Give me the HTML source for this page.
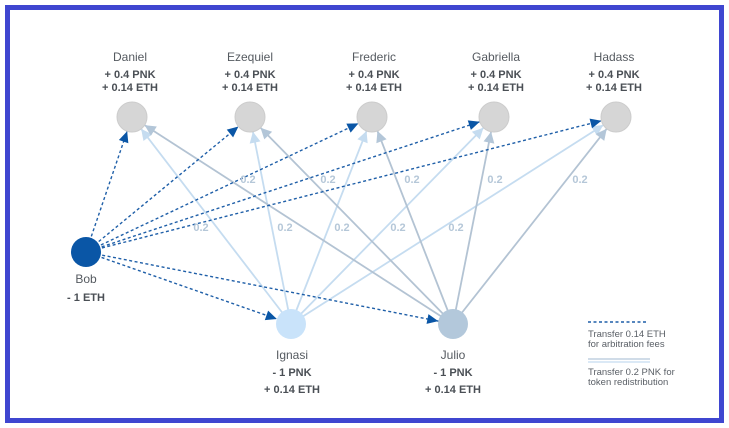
<!DOCTYPE html>
<html><head><meta charset="utf-8"><style>
html,body{margin:0;padding:0;background:#fff}
svg{display:block;font-family:"Liberation Sans",sans-serif}
</style></head><body>
<svg width="729" height="428" viewBox="0 0 729 428">
<defs>
<marker id="da" markerUnits="userSpaceOnUse" markerWidth="30" markerHeight="20" viewBox="-12 -6 30 12" refX="15" refY="0" orient="auto">
<path d="M0,0 L-11,-5 L-11,5 Z" fill="#0a56a6"/></marker>
<marker id="la" markerUnits="userSpaceOnUse" markerWidth="30" markerHeight="20" viewBox="-12 -6 30 12" refX="15" refY="0" orient="auto">
<path d="M0,0 L-11,-5.5 L-11,5.5 Z" fill="#c5dcf0"/></marker>
<marker id="ga" markerUnits="userSpaceOnUse" markerWidth="30" markerHeight="20" viewBox="-12 -6 30 12" refX="15" refY="0" orient="auto">
<path d="M0,0 L-11,-5.5 L-11,5.5 Z" fill="#b3c6d8"/></marker>
</defs>
<rect x="7.5" y="7.5" width="714" height="413" fill="#fff" stroke="#3f46d0" stroke-width="5"/>
<g stroke="#c5dcf0" stroke-width="1.8" fill="none" marker-end="url(#la)">
<line x1="291" y1="324" x2="132" y2="117"/>
<line x1="291" y1="324" x2="250" y2="117"/>
<line x1="291" y1="324" x2="372" y2="117"/>
<line x1="291" y1="324" x2="494" y2="117"/>
<line x1="291" y1="324" x2="616" y2="117"/>
</g>
<g stroke="#b3c3d3" stroke-width="1.8" fill="none" marker-end="url(#ga)">
<line x1="453" y1="324" x2="132" y2="117"/>
<line x1="453" y1="324" x2="250" y2="117"/>
<line x1="453" y1="324" x2="372" y2="117"/>
<line x1="453" y1="324" x2="494" y2="117"/>
<line x1="453" y1="324" x2="616" y2="117"/>
</g>
<g stroke="#1f5fa8" stroke-width="1.4" stroke-dasharray="3,2.5" fill="none" marker-end="url(#da)">
<line x1="86" y1="252" x2="132" y2="117"/>
<line x1="86" y1="252" x2="250" y2="117"/>
<line x1="86" y1="252" x2="372" y2="117"/>
<line x1="86" y1="252" x2="494" y2="117"/>
<line x1="86" y1="252" x2="616" y2="117"/>
<line x1="86" y1="252" x2="291" y2="324"/>
<line x1="86" y1="252" x2="453" y2="324"/>
</g>
<g fill="#d6d6d6" stroke="#cccccc" stroke-width="1">
<circle cx="132" cy="117" r="15"/><circle cx="250" cy="117" r="15"/>
<circle cx="372" cy="117" r="15"/><circle cx="494" cy="117" r="15"/>
<circle cx="616" cy="117" r="15"/>
</g>
<circle cx="86" cy="252" r="15" fill="#0a56a6"/>
<circle cx="291" cy="324" r="15" fill="#c9e3fa"/>
<circle cx="453" cy="324" r="15" fill="#b3c8db"/>
<g fill="#b5c7d8" font-size="11" font-weight="bold" text-anchor="middle">
<text x="248" y="183">0.2</text><text x="328" y="183">0.2</text><text x="412" y="183">0.2</text><text x="495" y="183">0.2</text><text x="580" y="183">0.2</text>
<text x="201" y="231">0.2</text><text x="285" y="231">0.2</text><text x="342" y="231">0.2</text><text x="398" y="231">0.2</text><text x="456" y="231">0.2</text>
</g>
<g fill="#555a60" font-size="12" text-anchor="middle">
<text x="130" y="61">Daniel</text><text x="250" y="61">Ezequiel</text><text x="374" y="61">Frederic</text><text x="496" y="61">Gabriella</text><text x="614" y="61">Hadass</text>
<text x="86" y="283">Bob</text><text x="292" y="359">Ignasi</text><text x="453" y="359">Julio</text>
</g>
<g fill="#4a4f55" font-size="11" font-weight="bold" text-anchor="middle">
<text x="130" y="78">+ 0.4 PNK</text><text x="130" y="91">+ 0.14 ETH</text>
<text x="250" y="78">+ 0.4 PNK</text><text x="250" y="91">+ 0.14 ETH</text>
<text x="374" y="78">+ 0.4 PNK</text><text x="374" y="91">+ 0.14 ETH</text>
<text x="496" y="78">+ 0.4 PNK</text><text x="496" y="91">+ 0.14 ETH</text>
<text x="614" y="78">+ 0.4 PNK</text><text x="614" y="91">+ 0.14 ETH</text>
<text x="86" y="301">- 1 ETH</text>
<text x="292" y="376">- 1 PNK</text><text x="292" y="393">+ 0.14 ETH</text>
<text x="453" y="376">- 1 PNK</text><text x="453" y="393">+ 0.14 ETH</text>
</g>
<line x1="588" y1="322" x2="648" y2="322" stroke="#1f5fa8" stroke-width="1.4" stroke-dasharray="3,2.5"/>
<line x1="588" y1="359" x2="650" y2="359" stroke="#b3c8db" stroke-width="1.3"/>
<line x1="588" y1="362" x2="650" y2="362" stroke="#c5dcf0" stroke-width="1.3"/>
<g fill="#5a5f66" font-size="9.5">
<text x="588" y="337">Transfer 0.14 ETH</text><text x="588" y="347">for arbitration fees</text>
<text x="588" y="375">Transfer 0.2 PNK for</text><text x="588" y="385">token redistribution</text>
</g>
</svg>
</body></html>
